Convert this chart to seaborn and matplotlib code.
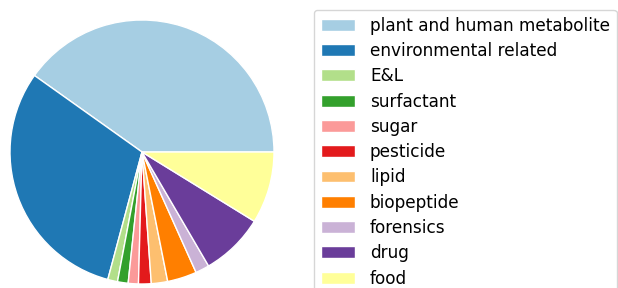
import matplotlib
matplotlib.use("Agg")
import matplotlib.pyplot as plt
import seaborn as sns

# category shares (percent)
categories = ["plant and human metabolite", "environmental related", "E&L",
              "surfactant", "sugar", "pesticide", "lipid", "biopeptide",
              "forensics", "drug", "food"]
shares = [40.2, 30.7, 1.2, 1.3, 1.25, 1.55, 2.0, 3.6, 1.7, 7.8, 8.8]

colors = sns.color_palette("Paired", len(categories))

W, H = 618, 288
fig = plt.figure(figsize=(W / 100, H / 100), dpi=100)

# pie centred at (142, 152) px with a radius of 132 px
ax = fig.add_axes([0, 0, 284 / W, 272 / H])
wedges, _ = ax.pie(shares, colors=colors, startangle=0, counterclock=True,
                   wedgeprops=dict(edgecolor="white", linewidth=1))
ax.set_xlim(-142 / 132, 142 / 132)
ax.set_ylim(-136 / 132, 136 / 132)

fig.legend(wedges, categories, loc="upper left", fontsize=12.2,
           labelspacing=0.43, handletextpad=0.9,
           bbox_to_anchor=(314 / W, 1 - 10 / H), borderaxespad=0)

fig.savefig("out.png", dpi=100)
